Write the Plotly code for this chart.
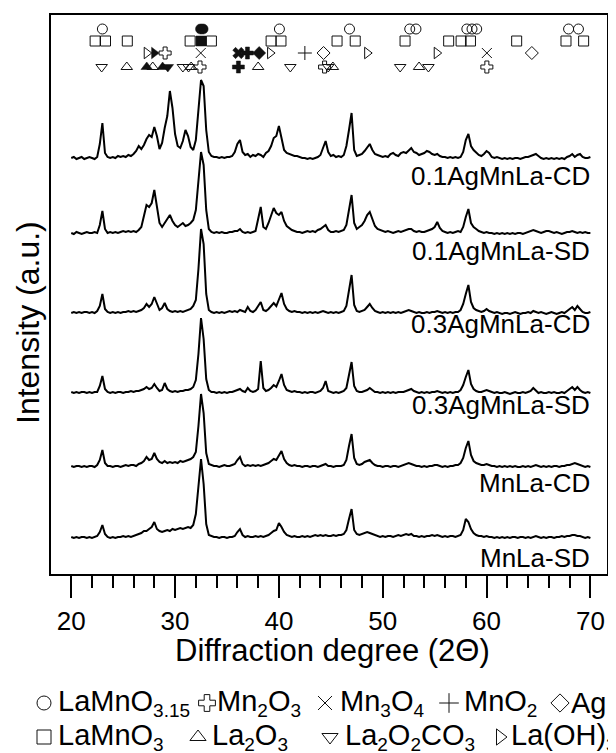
import plotly.graph_objects as go

# ---------------- data ----------------
TWO_THETA = [20 + 0.25 * i for i in range(201)]

SAMPLES = ["0.1AgMnLa-CD", "0.1AgMnLa-SD", "0.3AgMnLa-CD",
           "0.3AgMnLa-SD", "MnLa-CD", "MnLa-SD"]
OFFSETS = [414, 339, 260, 180, 106, 35]

I_01_CD = [
    2, 3, 1, 2, 3, 1, 2, 3,
    2, 1, 3, 16, 37, 7, 3, 2,
    3, 2, 4, 3, 4, 3, 5, 4,
    6, 9, 14, 11, 15, 21, 25, 23,
    33, 24, 11, 17, 32, 44, 69, 52,
    26, 14, 12, 19, 30, 24, 13, 10,
    20, 50, 80, 74, 30, 8, 4, 3,
    3, 2, 3, 2, 3, 3, 4, 8,
    16, 20, 8, 5, 6, 3, 5, 4,
    6, 5, 3, 7, 9, 14, 22, 24,
    34, 22, 10, 7, 6, 5, 4, 4,
    3, 2, 2, 1, 2, 1, 2, 3,
    5, 12, 19, 8, 4, 5, 3, 4,
    3, 5, 14, 30, 47, 10, 4, 5,
    6, 9, 13, 16, 10, 6, 5, 4,
    3, 4, 3, 6, 7, 5, 4, 7,
    8, 7, 10, 12, 8, 7, 5, 6,
    7, 9, 8, 6, 5, 6, 4, 3,
    3, 2, 3, 2, 3, 2, 3, 8,
    20, 26, 14, 10, 7, 5, 4, 6,
    9, 7, 3, 2, 3, 2, 1, 2,
    1, 2, 1, 2, 2, 1, 2, 3,
    3, 4, 5, 6, 4, 2, 1, 2,
    1, 2, 1, 2, 1, 2, 1, 3,
    4, 6, 3, 5, 6, 3, 2, 2,
    3]

I_01_SD = [
    2, 1, 3, 2, 1, 2, 3, 2,
    2, 3, 2, 10, 24, 6, 2, 3,
    2, 3, 2, 3, 4, 3, 4, 3,
    4, 3, 5, 8, 20, 30, 28, 32,
    45, 30, 12, 8, 12, 16, 20, 14,
    10, 8, 10, 12, 9, 10, 12, 15,
    25, 55, 83, 70, 25, 6, 3, 2,
    3, 2, 3, 2, 2, 3, 3, 4,
    4, 6, 3, 2, 3, 2, 3, 4,
    16, 28, 8, 6, 12, 20, 27, 22,
    20, 23, 14, 9, 7, 5, 4, 3,
    3, 2, 3, 4, 3, 4, 3, 5,
    6, 8, 10, 5, 3, 3, 4, 3,
    4, 5, 10, 25, 40, 12, 6, 8,
    10, 14, 20, 23, 15, 9, 6, 5,
    4, 3, 4, 3, 2, 3, 4, 3,
    4, 5, 6, 6, 4, 3, 4, 3,
    3, 4, 5, 6, 8, 13, 7, 4,
    3, 2, 3, 2, 3, 4, 3, 8,
    18, 26, 12, 8, 6, 4, 3, 2,
    3, 2, 2, 1, 2, 1, 2, 1,
    2, 1, 2, 1, 2, 2, 1, 2,
    3, 4, 5, 4, 3, 2, 3, 4,
    4, 3, 2, 3, 2, 1, 2, 3,
    3, 4, 3, 2, 3, 2, 3, 2,
    2]

I_03_CD = [
    1, 2, 1, 2, 1, 2, 2, 1,
    2, 1, 3, 8, 20, 5, 2, 1,
    2, 1, 2, 1, 2, 2, 3, 2,
    3, 2, 3, 4, 6, 10, 7, 10,
    17, 10, 4, 6, 11, 5, 3, 2,
    3, 2, 3, 2, 3, 4, 5, 8,
    14, 45, 85, 70, 20, 4, 2, 1,
    2, 1, 2, 1, 2, 3, 2, 3,
    2, 4, 3, 2, 7, 3, 2, 4,
    8, 12, 4, 3, 5, 8, 11, 8,
    14, 21, 10, 5, 3, 2, 3, 2,
    2, 1, 2, 1, 2, 1, 2, 1,
    2, 3, 2, 1, 2, 1, 2, 1,
    2, 3, 8, 25, 39, 9, 3, 2,
    3, 4, 7, 10, 6, 3, 2, 1,
    2, 1, 2, 1, 2, 1, 2, 1,
    2, 3, 4, 3, 2, 1, 2, 1,
    1, 2, 1, 2, 2, 3, 2, 1,
    2, 1, 2, 1, 2, 2, 4, 10,
    20, 29, 12, 6, 4, 3, 2, 3,
    5, 3, 2, 1, 2, 1, 0, 1,
    1, 0, 1, 2, 1, 0, 1, 1,
    2, 1, 3, 2, 1, 2, 1, 0,
    1, 2, 1, 0, 1, 2, 1, 3,
    5, 7, 4, 8, 5, 2, 1, 1,
    2]

I_03_SD = [
    2, 1, 2, 1, 2, 2, 1, 2,
    1, 2, 2, 8, 18, 5, 2, 1,
    2, 1, 2, 2, 1, 2, 2, 3,
    2, 3, 3, 4, 5, 7, 5, 6,
    10, 6, 3, 4, 11, 5, 3, 2,
    3, 2, 3, 3, 4, 4, 5, 7,
    14, 40, 76, 55, 15, 4, 2, 2,
    1, 2, 1, 2, 1, 2, 2, 3,
    4, 5, 3, 2, 6, 3, 2, 3,
    5, 33, 6, 3, 4, 6, 9, 7,
    13, 20, 9, 4, 3, 2, 3, 2,
    2, 1, 2, 1, 2, 2, 1, 2,
    3, 6, 13, 3, 2, 1, 2, 1,
    2, 3, 6, 20, 32, 8, 3, 2,
    2, 3, 4, 6, 4, 2, 2, 1,
    2, 1, 2, 1, 2, 1, 2, 2,
    2, 3, 4, 5, 3, 2, 1, 2,
    1, 2, 1, 2, 2, 3, 2, 1,
    2, 1, 2, 1, 2, 2, 4, 9,
    17, 24, 10, 5, 3, 2, 2, 3,
    4, 3, 2, 1, 2, 1, 1, 2,
    1, 0, 1, 2, 1, 1, 2, 1,
    2, 3, 6, 3, 1, 2, 1, 1,
    2, 1, 2, 1, 1, 2, 1, 3,
    5, 7, 4, 7, 4, 2, 1, 2,
    1]

I_MN_CD = [
    2, 1, 2, 2, 1, 2, 1, 2,
    2, 1, 3, 8, 18, 5, 2, 2,
    1, 2, 2, 1, 2, 3, 2, 3,
    3, 2, 4, 5, 7, 11, 8, 9,
    15, 9, 6, 5, 7, 5, 6, 5,
    6, 5, 7, 6, 7, 8, 9, 11,
    16, 42, 74, 55, 15, 4, 3, 2,
    2, 1, 2, 3, 2, 2, 3, 4,
    8, 11, 4, 2, 3, 2, 3, 2,
    3, 2, 3, 4, 5, 7, 9, 8,
    13, 17, 9, 5, 3, 2, 3, 2,
    2, 1, 2, 2, 1, 2, 2, 1,
    2, 3, 4, 2, 2, 1, 2, 2,
    2, 3, 8, 22, 34, 10, 4, 3,
    4, 6, 7, 8, 5, 3, 2, 2,
    1, 2, 2, 1, 2, 2, 1, 2,
    3, 4, 5, 4, 3, 2, 2, 1,
    2, 1, 2, 2, 3, 3, 2, 1,
    2, 1, 2, 2, 3, 3, 5, 10,
    20, 27, 13, 7, 5, 4, 3, 3,
    4, 3, 2, 2, 1, 2, 1, 2,
    1, 2, 1, 2, 1, 1, 2, 1,
    2, 1, 2, 3, 2, 1, 2, 1,
    2, 1, 2, 2, 1, 2, 2, 3,
    3, 4, 5, 4, 3, 2, 1, 2,
    1]

I_MN_SD = [
    2, 1, 2, 1, 2, 2, 1, 2,
    1, 2, 3, 7, 14, 5, 2, 1,
    2, 1, 2, 2, 3, 2, 3, 2,
    3, 4, 5, 6, 8, 8, 10, 12,
    17, 10, 8, 7, 8, 9, 8, 10,
    9, 10, 11, 10, 11, 12, 11, 14,
    25, 55, 80, 55, 15, 4, 3, 2,
    2, 1, 2, 2, 1, 2, 2, 3,
    7, 10, 4, 2, 3, 2, 2, 3,
    2, 3, 2, 3, 4, 6, 8, 9,
    16, 12, 7, 4, 3, 2, 3, 2,
    2, 3, 2, 3, 2, 3, 4, 3,
    4, 3, 4, 3, 3, 4, 3, 4,
    4, 5, 9, 20, 30, 9, 5, 4,
    5, 6, 7, 6, 5, 4, 3, 2,
    3, 2, 3, 3, 2, 3, 4, 3,
    4, 5, 4, 5, 3, 3, 2, 3,
    2, 3, 3, 4, 3, 4, 3, 2,
    3, 2, 3, 3, 2, 3, 4, 9,
    20, 17, 10, 6, 4, 3, 3, 2,
    3, 2, 2, 1, 2, 1, 2, 1,
    2, 1, 2, 2, 1, 2, 2, 1,
    2, 1, 2, 3, 2, 1, 2, 1,
    2, 2, 1, 2, 2, 3, 2, 3,
    3, 4, 4, 3, 3, 2, 1, 2,
    1]

INTENSITIES = [I_01_CD, I_01_SD, I_03_CD, I_03_SD, I_MN_CD, I_MN_SD]

# reference peak positions (2theta) per phase
PHASES = ["LaMnO3.15", "Mn2O3", "Mn3O4", "MnO2", "Ag",
          "LaMnO3", "La2O3", "La2O2CO3", "La(OH)3"]
SUB = '<sub><span style="font-size:19px">%s</span></sub>'
PHASE_LABELS = ["LaMnO" + SUB % "3.15", "Mn" + SUB % "2" + "O" + SUB % "3",
                "Mn" + SUB % "3" + "O" + SUB % "4", "MnO" + SUB % "2", "Ag",
                "LaMnO" + SUB % "3", "La" + SUB % "2" + "O" + SUB % "3",
                "La" + SUB % "2" + "O" + SUB % "2" + "CO" + SUB % "3",
                "La(OH)" + SUB % "3"]

P_LAMNO315 = [23.0, 40.05, 46.8, 52.6, 53.2, 58.1, 58.6, 59.05, 67.9, 68.85]
P_LAMNO315_F = [32.45, 32.7]
P_LAMNO3 = [22.3, 23.3, 25.4, 31.45, 33.5, 39.25, 40.2, 45.6, 47.35, 52.15,
            56.35, 57.55, 58.45, 62.9, 67.65, 69.35]
P_LAMNO3_F = [32.5]
P_LAOH3 = [27.27, 39.15, 48.5, 55.2]
P_LAOH3_F = [27.98]
P_MN2O3_A = [29.04]
P_MN2O3_B = [32.4, 44.4, 60.03]
P_MN2O3_F = [36.1]
P_MN3O4 = [32.47, 60.03]
P_MN3O4_F = [36.1]
P_MNO2 = [42.5]
P_MNO2_F = [36.97]
P_AG = [44.3, 64.36]
P_AG_F = [38.1]
P_LA2O3 = [25.35, 27.85, 31.55, 38.0, 45.2, 53.5]
P_LA2O3_F = [27.27, 28.8]
P_LA2O2CO3 = [22.93, 30.75, 31.3, 41.1, 44.75, 51.68, 54.4]
P_LA2O2CO3_F = [29.3]

# ---------------- styles / layout ----------------
FONT = "Liberation Sans, Arial, sans-serif"
W, H = 608, 745          # page body adds an 8 px offset
ROW_Y = [545, 533, 521, 507]
OPEN_SYMBOL = {"LaMnO3.15": "circle-open", "Mn2O3": "cross-open",
               "Mn3O4": "x-thin-open", "MnO2": "cross-thin-open",
               "Ag": "diamond-open", "LaMnO3": "square-open",
               "La2O3": "triangle-up-open", "La2O2CO3": "triangle-down-open",
               "La(OH)3": "triangle-right-open"}
FILLED_SYMBOL = {"LaMnO3.15": "circle", "Mn2O3": "cross", "Mn3O4": "x",
                 "MnO2": "cross", "Ag": "diamond", "LaMnO3": "square",
                 "La2O3": "triangle-up", "La2O2CO3": "triangle-down",
                 "La(OH)3": "triangle-right"}

GROUPS = [
    ("LaMnO3.15", 0, False, P_LAMNO315), ("LaMnO3.15", 0, True, P_LAMNO315_F),
    ("LaMnO3", 1, False, P_LAMNO3), ("LaMnO3", 1, True, P_LAMNO3_F),
    ("La(OH)3", 2, False, P_LAOH3), ("La(OH)3", 2, True, P_LAOH3_F),
    ("Mn2O3", 2, False, P_MN2O3_A), ("Mn2O3", 3, False, P_MN2O3_B),
    ("Mn2O3", 3, True, P_MN2O3_F),
    ("Mn3O4", 2, False, P_MN3O4), ("Mn3O4", 2, True, P_MN3O4_F),
    ("MnO2", 2, False, P_MNO2), ("MnO2", 2, True, P_MNO2_F),
    ("Ag", 2, False, P_AG), ("Ag", 2, True, P_AG_F),
    ("La2O3", 3, False, P_LA2O3), ("La2O3", 3, True, P_LA2O3_F),
    ("La2O2CO3", 3, False, P_LA2O2CO3), ("La2O2CO3", 3, True, P_LA2O2CO3_F),
]

LABEL_Y = [398, 323, 250, 169, 91, 16]

fig = go.Figure()

for name, ints, off in zip(SAMPLES, INTENSITIES, OFFSETS):
    fig.add_trace(go.Scatter(
        x=TWO_THETA, y=[v + off for v in ints], mode="lines",
        line=dict(color="black", width=2), name=name, showlegend=False,
        hoverinfo="skip"))

for phase, row, filled, xs in GROUPS:
    sym = FILLED_SYMBOL[phase] if filled else OPEN_SYMBOL[phase]
    fig.add_trace(go.Scatter(
        x=xs, y=[ROW_Y[row]] * len(xs), mode="markers",
        marker=dict(symbol=sym, size=10, color="#111",
                    line=dict(color="#111", width=1 if not filled else 0.5)),
        showlegend=False, hoverinfo="skip", cliponaxis=False))

for name, y in zip(SAMPLES, LABEL_Y):
    fig.add_annotation(x=70.15, y=y, xref="x", yref="y", text=name,
                       showarrow=False, xanchor="right", yanchor="middle",
                       font=dict(family=FONT, size=26, color="black"))

# bottom phase key (helper axes in screen pixels)
KEY_ROWS = [["LaMnO3.15", "Mn2O3", "Mn3O4", "MnO2", "Ag"],
            ["LaMnO3", "La2O3", "La2O2CO3", "La(OH)3"]]
KEY_SYM_X = [[44, 207, 325, 449, 560], [44, 198, 330, 500]]
KEY_TXT_X = [[56, 215, 338, 462, 569], [56, 210, 343, 509]]
KEY_Y = [703, 737]

for r, phases in enumerate(KEY_ROWS):
    fig.add_trace(go.Scatter(
        x=KEY_SYM_X[r], y=[KEY_Y[r]] * len(phases), xaxis="x2", yaxis="y2",
        mode="markers", cliponaxis=False, showlegend=False, hoverinfo="skip",
        marker=dict(symbol=[OPEN_SYMBOL[p] for p in phases], size=14,
                    color="#111", line=dict(color="#111", width=1))))
    for p, tx in zip(phases, KEY_TXT_X[r]):
        fig.add_annotation(x=tx, y=KEY_Y[r], xref="x2", yref="y2",
                           text=PHASE_LABELS[PHASES.index(p)], showarrow=False,
                           xanchor="left", yanchor="middle",
                           font=dict(family=FONT, size=29, color="black"))

fig.add_annotation(x=(28 - 8) / W, y=(H - (323 - 8)) / H, xref="paper",
                   yref="paper", text="Intensity (a.u.)", textangle=-90,
                   showarrow=False, xanchor="center", yanchor="middle",
                   font=dict(family=FONT, size=32, color="black"))
fig.add_annotation(x=(332 - 8) / W, y=(H - (650 - 8)) / H, xref="paper",
                   yref="paper", text="Diffraction degree (2\u0398)",
                   showarrow=False, xanchor="center", yanchor="middle",
                   font=dict(family=FONT, size=31, color="black"))

fig.update_layout(
    width=W, height=H,
    margin=dict(l=0, r=0, t=0, b=0, pad=0),
    paper_bgcolor="white", plot_bgcolor="rgba(0,0,0,0)",
    font=dict(family=FONT, color="black"),
    xaxis=dict(range=[18.05, 71.6], domain=[43 / W, 599 / W], anchor="y",
               tick0=20, dtick=10, ticks="outside", ticklen=22, tickwidth=2,
               tickcolor="black", showline=True, linecolor="black",
               linewidth=2, mirror=True, showgrid=False, zeroline=False,
               tickfont=dict(family=FONT, size=26, color="black"),
               ticklabelstandoff=1,
               minor=dict(tick0=20, dtick=2, ticks="outside", ticklen=12,
                          tickwidth=2, tickcolor="black", showgrid=False)),
    yaxis=dict(range=[0, 559], domain=[(H - 566) / H, (H - 7) / H],
               anchor="x", showticklabels=False, ticks="", showline=True,
               linecolor="black", linewidth=2, mirror=True, showgrid=False,
               zeroline=False),
    xaxis2=dict(range=[8, 616], domain=[0, 1], anchor="y2", visible=False),
    yaxis2=dict(range=[753, 604], domain=[0, 0.2], anchor="x2",
                visible=False),
)

fig.write_html("out.html")
